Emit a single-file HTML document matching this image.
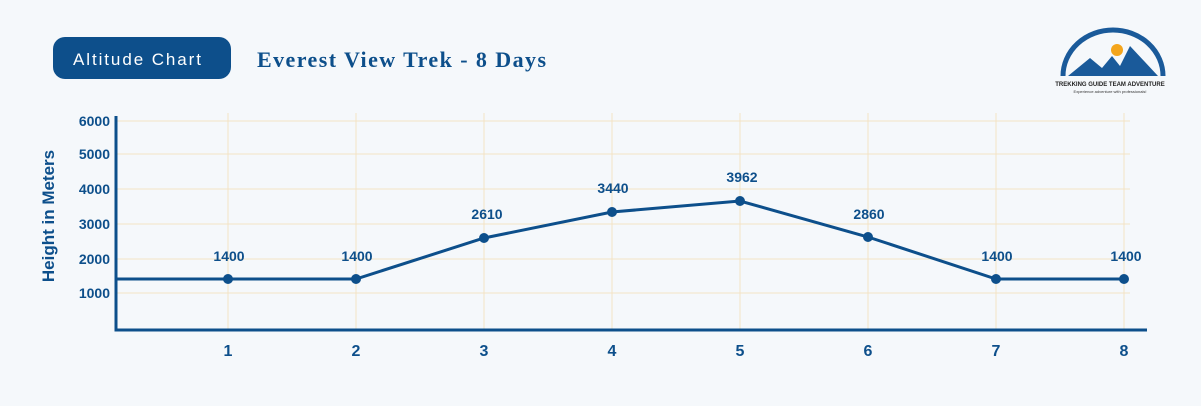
<!DOCTYPE html>
<html><head><style>
body{margin:0;background:#f5f8fb;}
</style></head><body>
<svg width="1201" height="401" viewBox="0 0 1201 401" xmlns="http://www.w3.org/2000/svg" font-family="Liberation Sans, sans-serif">
<rect width="1201" height="401" fill="#f5f8fb"/>
<rect x="53" y="37" width="178" height="42" rx="12" fill="#0d4f8b"/>
<text x="137" y="65" text-anchor="middle" fill="#fff" font-size="17" textLength="128">Altitude Chart</text>
<text x="257" y="67" fill="#0d4f8b" font-size="22" font-weight="bold" font-family="Liberation Serif, serif" textLength="289">Everest View Trek - 8 Days</text>
<g>
<path d="M1063 76 A50 46 0 0 1 1163 76" fill="none" stroke="#1a5a9a" stroke-width="5"/>
<circle cx="1117" cy="50" r="6" fill="#f4a51c"/>
<path d="M1068 76 L1090 58 L1102 68 L1112 56 L1120 66 L1130 46 L1158 76 Z" fill="#1a5a9a"/>
<text x="1110" y="86" text-anchor="middle" font-size="6" font-weight="bold" fill="#222">TREKKING GUIDE TEAM ADVENTURE</text>
<text x="1110" y="93" text-anchor="middle" font-size="4" fill="#333">Experience adventure with professionals!</text>
</g>
<g stroke="#f3e3c4" stroke-width="1">
<line x1="117" y1="121" x2="1130" y2="121"/><line x1="117" y1="154" x2="1130" y2="154"/><line x1="117" y1="189" x2="1130" y2="189"/><line x1="117" y1="224" x2="1130" y2="224"/><line x1="117" y1="259" x2="1130" y2="259"/><line x1="117" y1="293" x2="1130" y2="293"/>
<line x1="228" y1="113" x2="228" y2="330"/><line x1="356" y1="113" x2="356" y2="330"/><line x1="484" y1="113" x2="484" y2="330"/><line x1="612" y1="113" x2="612" y2="330"/><line x1="740" y1="113" x2="740" y2="330"/><line x1="868" y1="113" x2="868" y2="330"/><line x1="996" y1="113" x2="996" y2="330"/><line x1="1124" y1="113" x2="1124" y2="330"/>
</g>
<path d="M116 116 V330 H1147" fill="none" stroke="#0d4f8b" stroke-width="3"/>
<g fill="#0d4f8b" font-size="14" font-weight="bold" text-anchor="end">
<text x="110" y="126">6000</text><text x="110" y="159">5000</text><text x="110" y="194">4000</text><text x="110" y="229">3000</text><text x="110" y="264">2000</text><text x="110" y="298">1000</text>
</g>
<text transform="translate(54 216) rotate(-90)" text-anchor="middle" fill="#0d4f8b" font-size="17" font-weight="bold">Height in Meters</text>
<g fill="#0d4f8b" font-size="16" font-weight="bold" text-anchor="middle">
<text x="228" y="356">1</text><text x="356" y="356">2</text><text x="484" y="356">3</text><text x="612" y="356">4</text><text x="740" y="356">5</text><text x="868" y="356">6</text><text x="996" y="356">7</text><text x="1124" y="356">8</text>
</g>
<polyline points="116,279 228,279 356,279 484,238 612,212 740,201 868,237 996,279 1124,279" fill="none" stroke="#0d4f8b" stroke-width="3"/>
<g fill="#0d4f8b">
<circle cx="228" cy="279" r="5"/><circle cx="356" cy="279" r="5"/><circle cx="484" cy="238" r="5"/><circle cx="612" cy="212" r="5"/><circle cx="740" cy="201" r="5"/><circle cx="868" cy="237" r="5"/><circle cx="996" cy="279" r="5"/><circle cx="1124" cy="279" r="5"/>
</g>
<g fill="#0d4f8b" font-size="14" font-weight="bold" text-anchor="middle">
<text x="229" y="261">1400</text><text x="357" y="261">1400</text><text x="487" y="219">2610</text><text x="613" y="193">3440</text><text x="742" y="182">3962</text><text x="869" y="219">2860</text><text x="997" y="261">1400</text><text x="1126" y="261">1400</text>
</g>
</svg>
</body></html>
